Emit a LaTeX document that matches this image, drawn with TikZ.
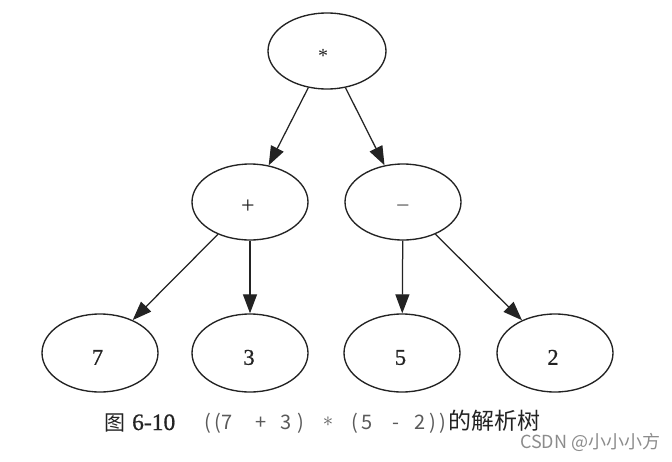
\documentclass[tikz,border=0pt]{standalone}
\usepackage{fontspec}
\setmainfont{Liberation Serif}
\newfontfamily\cjk{Noto Sans CJK SC}
\newfontfamily\lblfont[FakeBold=0.8]{Liberation Serif}
\usetikzlibrary{shapes.geometric,arrows.meta}
\definecolor{ink}{RGB}{35,35,35}
\definecolor{exprc}{RGB}{90,90,90}
\definecolor{wmark}{RGB}{140,140,140}
\tikzset{
  treenode/.style={ellipse,draw=ink,line width=1.35pt,minimum width=116pt,minimum height=77pt,inner sep=0pt,font=\lblfont\fontsize{22.5}{22.5}\selectfont,text=ink,text depth=0pt},
  digitlbl/.style={text height=23.5pt},
  arr/.style={draw=ink,line width=1.25pt,-{Triangle[length=19pt,width=14pt]}},
  expr/.style={anchor=base,inner sep=0pt,font=\cjk\fontsize{20}{20}\selectfont,text=exprc},
}
\begin{document}
\begin{tikzpicture}[x=1pt,y=-1pt]
\useasboundingbox[fill=white] (0,0) rectangle (672,461);
% tree nodes
\node[treenode,minimum width=118pt,minimum height=76pt,text height=23pt,font=\fontsize{20}{20}\selectfont] (root) at (327,51) {\hspace*{-8pt}*};
\node[treenode,minimum height=76pt,text height=22pt,font=\fontsize{24}{24}\selectfont] (plus) at (250,202) {\hspace*{-4pt}+};
\node[treenode,minimum height=76pt,text height=22pt,text=exprc,font=\fontsize{24}{24}\selectfont] (minus) at (403,202) {−};
\node[treenode,digitlbl,minimum height=78pt] (seven) at (100,353) {\hspace*{-5pt}7};
\node[treenode,digitlbl,minimum height=78pt] (three) at (250,353) {\hspace*{-2pt}3};
\node[treenode,digitlbl,minimum height=78pt] (five) at (402,353) {\hspace*{-3pt}5};
\node[treenode,digitlbl,minimum height=78pt] (two) at (555,353) {\hspace*{-4pt}2};
% connectors
\draw[arr] (root) -- (plus);
\draw[arr] (root) -- (minus);
\draw[arr] (plus) -- (seven);
\draw[arr] (plus) -- (three);
\draw[arr] (minus) -- (five);
\draw[arr] (minus) -- (two);
% caption
\node[anchor=base west,inner sep=0pt,font=\cjk\fontsize{21}{21}\selectfont,text=ink] (figlabel) at (104,430) {图};
\node[anchor=base west,inner sep=0pt,font=\lblfont\fontsize{23.5}{23.5}\selectfont,text=ink] (fignum) at (132,430) {6-10};
\node[expr] (p1) at (208,429) {(};
\node[expr] (p2) at (218,429) {(};
\node[expr] (e7) at (227,429) {7};
\node[expr] (eplus) at (261,429) {+};
\node[expr] (e3) at (286,429) {3};
\node[expr] (p3) at (301,429) {)};
\node[expr] (east) at (328,429) {\raisebox{3pt}{$\ast$}};
\node[expr] (p4) at (355,429) {(};
\node[expr] (e5) at (367,429) {5};
\node[expr] (eminus) at (396,429) {-};
\node[expr] (e2) at (420,429) {2};
\node[expr] (p5) at (433,429) {)};
\node[expr] (p6) at (443,429) {)};
\node[anchor=base west,inner sep=0pt,font=\cjk\fontsize{23}{23}\selectfont,text=ink] (captext) at (448,429) {的解析树};
% watermark
\node[anchor=west,inner sep=0pt,font=\cjk\fontsize{18}{18}\selectfont,text=wmark] (wm) at (520,442) {CSDN @小小小方};
\end{tikzpicture}
\end{document}
